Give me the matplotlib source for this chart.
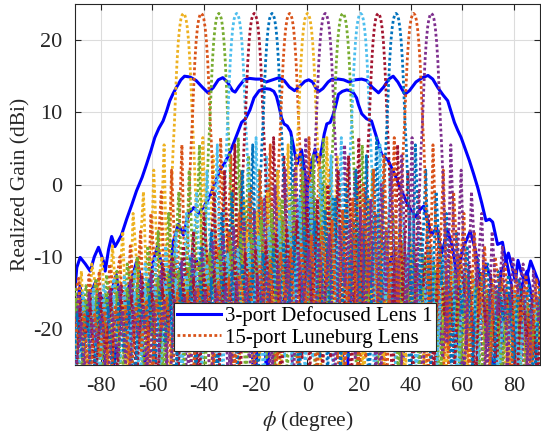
import matplotlib
matplotlib.use("Agg")
import matplotlib.pyplot as plt
import numpy as np

plt.rcParams['font.family'] = ['Liberation Serif', 'DejaVu Serif']
plt.rcParams['mathtext.fontset'] = 'stix'
plt.rcParams['axes.unicode_minus'] = False

# --- 3-port defocused lens: three measured beams (phi in deg, gain in dBi) ---
phi_wide = [-90, -89.3, -88, -86, -84.1, -82.5, -80.9, -79, -78.3, -77, -75.8, -74.5, -73.2, -72,
            -70, -68, -66.2, -64, -62.3, -60.5, -59.1, -57.5, -55.9, -54.5, -53.3, -52, -50.8, -49,
            -47.6, -45.5, -43.1, -40.5, -38.5, -36.5, -34.5, -32.8, -31, -29, -28, -26.5, -24.5,
            -22.5, -20, -18, -16, -13.5, -11, -9, -7, -5, -3, -1, 0.5, 2, 3.5, 4.5, 6, 8, 9.5, 12,
            14, 16, 18.5, 21, 23, 25, 27.5, 29.5, 31.5, 33.2, 35, 37.7, 39.5, 42, 44.5, 46.7, 48.5,
            50.5, 52.5, 54.3, 55.5, 56.9, 58.2, 59.5, 61, 62.7, 64.3, 65.9, 67.5, 69.1, 70.5, 71.7,
            72.8, 73.6, 75.5, 76.8, 77.8, 79.3, 80.5, 81.5, 83, 84.5, 86.4, 88.3, 90]
gain_wide = [-14.5, -11.5, -10.1, -11, -12, -10, -8.7, -10.6, -12, -9, -7.2, -8.6, -7.8, -7.0,
             -4.8, -2.8, -0.9, 1.0, 2.8, 4.8, 6.5, 7.8, 8.8, 10.2, 11.6, 12.6, 13.4, 14.5,
             15.0, 14.9, 14.4, 13.4, 12.7, 13.4, 14.5, 14.8, 14.2, 13.0, 12.8, 13.6, 14.5,
             14.7, 14.6, 14.6, 14.2, 14.5, 14.8, 14.4, 13.5, 13.0, 13.6, 14.3, 14.5, 14.2, 13.2,
             12.9, 13.3, 14.2, 14.6, 14.6, 14.5, 14.2, 14.5, 14.6, 14.4, 13.5, 12.7, 13.5, 14.6,
             15.0, 14.2, 12.5, 13.0, 14.2, 14.8, 15.1, 14.6, 13.4, 12.4, 11.6, 10.2, 8.6, 7.5,
             6.5, 5.0, 3.3, 1.5, -0.4, -2.6, -5.0, -4.8, -5.2, -7.0, -8.3, -8.0, -10.6, -9.5,
             -11.5, -13.5, -10.5, -12.5, -13.5, -10.6, -12.4, -14]

phi_left = [-90, -88, -86, -84, -82, -80, -78, -76, -74, -72, -70, -68, -66, -64, -62, -60, -58,
            -56, -54, -52, -50, -48, -46, -44, -42, -40, -38, -36, -34, -32, -30.3, -28.5, -27,
            -25.5, -24, -22.3, -20.7, -18.7, -16.5, -14.5, -13, -12, -11, -10, -9.1, -7.8, -6.5,
            -5.3, -4, -3.3, -2.3, -1.3, -0.2, 0.8, 1.8, 2.8, 4, 5.5, 7, 8.5, 10, 11.5, 13, 14.2,
            15, 16, 17.5, 19, 21, 23, 25, 27, 29, 31, 33, 35, 37, 39, 41, 43, 45, 47, 49, 51.5, 54,
            57, 60, 63, 66, 69, 72, 75, 78, 81, 84, 87, 90]
gain_left = [-18, -14, -21, -15, -13.5, -19, -27, -15, -12.5, -17, -24, -13, -10.5, -14, -20, -11,
             -8.5, -12, -16, -8, -5.5, -7, -4, -3.2, -4.0, -3, -1.8, 0, 1.9, 3.0, 4.2, 5.8, 7.2,
             8.6, 9.1, 10.3, 12.0, 13.0, 13.3, 13.2, 12.9, 12.2, 10.8, 9.2, 8.4, 8.1, 7.3,
             5.1, 2.8, 3.6, 4.8, 2.5, -0.9, -5, -10, -7, -5.5, -7, -11, -7.5, -10, -16, -21, -26,
             -32, -20, -12, -11, -17, -11, -8.5, -12, -21, -12, -9.5, -14, -24, -13.5, -10.5,
             -12.5, -19, -13, -14.5, -22, -15, -17, -27, -16, -14.5, -19, -26, -17, -15.5, -21,
             -17, -20, -18]

phi_right = [-90, -87, -84, -81, -78, -75, -72, -69, -66, -63, -60, -57, -54, -51, -49, -47, -45,
             -43, -41, -39, -37, -35, -33, -31, -29, -27, -25, -23, -21.5, -20.5, -19.5, -18,
             -16.8, -15.6, -14.5, -13, -11.5, -10, -9, -8, -6.5, -5, -3.5, -2.2, -1, -0.2, 0.8,
             1.8, 3, 4.3, 5.6, 6.5, 7.5, 8.8, 9.8, 10.8, 12, 13.5, 15.2, 16.5, 17.8, 19, 19.7, 21,
             22.9, 24.8, 26.8, 28.7, 31.3, 33.8, 36.4, 38.5, 40, 42, 43.5, 45, 46.5, 48, 50, 52,
             54.3, 56, 58, 60, 63, 65, 67, 69, 71, 73, 75, 77, 79, 81, 83, 85, 87, 89, 90]
gain_right = [-19, -16, -21, -15, -16.5, -25, -18, -14, -16, -25, -17, -15.5, -21, -13, -12, -18,
              -13, -10.5, -12, -22, -14, -10, -11.5, -19, -11, -8.5, -10, -15, -22, -30, -22,
              -14, -17, -30, -18, -12, -14, -20, -12, -8, -6, -7.5, -6, -8, -5, -0.9, 1.5,
              3.3, 4.9, 2.8, 5.1, 7.0, 8.4, 8.6, 9.5, 10.7, 12.5, 12.9, 13.1, 13.0, 12.7, 12.0,
              11.1, 9.8, 9.1, 8.8, 6.5, 4.2, 3.3, 1.4, -0.9, -2.5, -3.5, -4.5, -3.5, -3.0, -5,
              -7, -6, -9.5, -6.4, -8.5, -13, -9, -6.5, -9, -14, -11, -13, -19, -12, -10.5, -14,
              -22, -14, -12, -16, -23, -20]

# --- 15-port Luneburg lens: one measured beam shape, steered to 15 peak angles ---
beam_peaks = [-48, -41.1, -34.3, -27.4, -20.6, -13.7, -6.9, 0, 6.9, 13.7, 20.6, 27.4, 34.3, 41.1, 48]
beam_colors = ['#EDB120', '#D95319', '#77AC30', '#4DBEEE', '#A2142F', '#0072BD', '#D95319',
               '#EDB120', '#7E2F8E', '#77AC30', '#4DBEEE', '#A2142F', '#0072BD', '#D95319', '#7E2F8E']

# offsets (deg) from the beam peak: outer side, main lobe, inner side
off_outer = np.arange(-91.5, -6, 2.0)
off_main = np.arange(-6, 6.01, 0.5)
off_inner = np.arange(7.5, 138.1, 2.0)
gain_outer = [-19, -23, -18.5, -29, -18, -20, -17.5, -27, -17, -22, -16.5, -30, -16, -19, -15.5,
              -26, -15, -21, -14.5, -28, -14, -17, -13, -24, -12.5, -19, -12, -29, -11, -15,
              -10, -25, -8.5, -18, -6.5, -27, -4.0, -14, -1.0, -23, 2.0, -16, 5.5]
gain_main = [-22, -12, -5, 0.5, 5, 8.5, 13.0, 17, 19.8, 21.7, 22.9, 23.5, 23.7, 23.5, 22.9, 21.7,
             19.8, 17, 13.0, 8.5, 5, 0.5, -5, -12, -22]
gain_inner = [6.5, -17, 4.0, -22, 2.0, -15, 0.0, -27, -2.0, -19, -3.5, -24, -5.0, -14, -6.0, -29,
              -7.0, -18, -8.0, -23, -9.0, -16, -9.5, -28, -10.5, -20, -11, -25, -12, -17, -12.5,
              -30, -13, -21, -13.5, -26, -14, -19, -14.5, -29, -15, -22, -15, -27, -15.5, -20,
              -16, -30, -16, -23, -16.5, -28, -17, -21, -17, -31, -17.5, -24, -18, -29, -18, -22,
              -18.5, -30, -19, -25]

beam_offsets = np.concatenate([off_outer, off_main, off_inner])
beam_shape = np.array(gain_outer + gain_main + gain_inner)

fig = plt.figure(figsize=(5.41, 4.37), dpi=100)
ax = fig.add_axes([0.1386, 0.1648, 0.8594, 0.826])

h_blue, = ax.plot(phi_wide, gain_wide, color='b', lw=2.2, zorder=2)
ax.plot(phi_left, gain_left, color='b', lw=2.2, zorder=2)
ax.plot(phi_right, gain_right, color='b', lw=2.2, zorder=2)

for p, c in zip(beam_peaks, beam_colors):
    # beams right of broadside are the mirror image of the left ones
    x = p + beam_offsets if p <= 0 else p - beam_offsets
    ax.plot(x, beam_shape, color=c, lw=2.0, linestyle=(0, (1, 0.9)), zorder=3)

ax.set_xlim(-90, 90)
ax.set_ylim(-25, 25)
ax.set_xticks(np.arange(-80, 81, 20))
ax.set_yticks([-20, -10, 0, 10, 20])
ax.grid(True, color='#dcdcdc', lw=0.8, zorder=0)
ax.set_axisbelow(True)
ax.tick_params(direction='in', top=True, right=True, length=4, width=0.8,
               labelsize=16, colors='#262626', pad=9)
for s in ax.spines.values():
    s.set_color('#262626')
    s.set_linewidth(0.8)

ax.set_xlabel(r'$\phi$ (degree)', fontsize=15.5, color='#262626', labelpad=9)
ax.set_ylabel('Realized Gain (dBi)', fontsize=15.5, color='#262626', labelpad=2)

leg_line = plt.Line2D([], [], color='#D95319', lw=2.0, linestyle=(0, (1, 0.9)))
leg = ax.legend([h_blue, leg_line], ['3-port Defocused Lens 1', '15-port Luneburg Lens'],
                loc='lower left', bbox_to_anchor=(0.213, 0.039), borderaxespad=0,
                fontsize=15, fancybox=False, framealpha=1, edgecolor='#262626',
                handlelength=2.1, handletextpad=0.2, borderpad=0.15, labelspacing=0.1)
leg.get_frame().set_linewidth(0.8)
leg.set_zorder(5)

fig.savefig('out.png', dpi=100)
